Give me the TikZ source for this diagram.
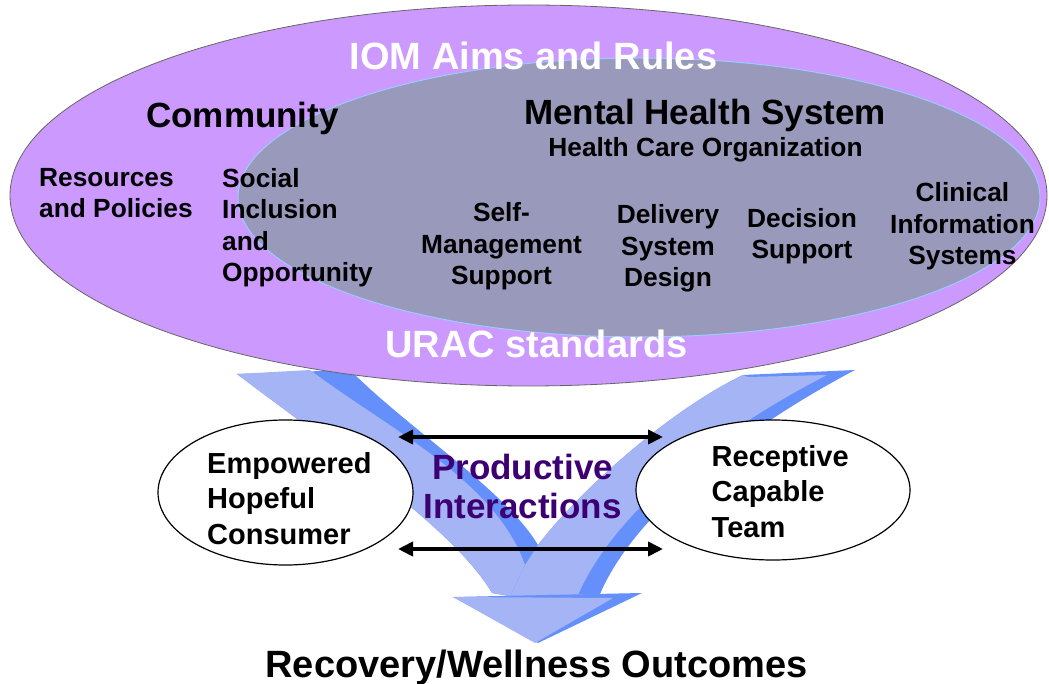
\documentclass[tikz,border=0pt]{standalone}
\usepackage{fontspec}
\setmainfont{Liberation Sans}
\usetikzlibrary{arrows.meta,shapes.geometric}
\definecolor{lav}{RGB}{204,153,255}
\definecolor{innerfill}{RGB}{153,153,187}
\definecolor{innerline}{RGB}{153,204,255}
\definecolor{alight}{RGB}{164,180,245}
\definecolor{adark}{RGB}{101,143,251}
\definecolor{prodc}{RGB}{60,0,115}
\begin{document}
\begin{tikzpicture}[x=1pt,y=-1pt,
  small/.style={font=\bfseries\fontsize{26.3}{31.5}\selectfont, inner sep=0pt, anchor=base},
  smallL/.style={small, align=left, anchor=base west},
  smallC/.style={small, align=center},
  mid/.style={font=\bfseries\fontsize{35}{40}\selectfont, inner sep=0pt, anchor=base},
  big/.style={font=\bfseries\fontsize{38}{44}\selectfont, inner sep=0pt, anchor=base},
  oval/.style={ellipse, draw=black, line width=1.2pt, fill=white, inner sep=0pt},
  dbl/.style={line width=3.8pt, {Triangle[length=15pt,width=14pt]}-{Triangle[length=15pt,width=14pt]}},
  ovaltext/.style={font=\bfseries\fontsize{29}{35.3}\selectfont, inner sep=0pt, align=left, anchor=base west}]
\useasboundingbox (0,0) rectangle (1049,684);
\fill[white] (0,0) rectangle (1049,684);

% ---- big arrow ----
% left arm
\fill[adark] (237,374) -- (350,370) .. controls (410,430) and (505,490) .. (538,545)
  -- (515,597) -- (492,593) .. controls (455,530) and (340,452) .. (237,374) -- cycle;
\fill[alight] (237,374) -- (310,370) .. controls (390,430) and (495,480) .. (525,565)
  -- (515,597) -- (492,593) .. controls (455,530) and (340,452) .. (237,374) -- cycle;
% right arm
\fill[adark] (743,375) -- (855,370) .. controls (745,428) and (635,512) .. (600,594)
  -- (510,597) -- (525,565) -- (538,545) .. controls (580,490) and (670,410) .. (743,375) -- cycle;
\fill[alight] (748,377) -- (827,375) .. controls (720,430) and (615,510) .. (578,595)
  -- (510,597) -- (525,565) -- (538,545) .. controls (580,490) and (670,410) .. (743,375) -- cycle;
% head
\fill[adark] (453,597) -- (642,593) -- (538,643) -- cycle;
\fill[alight] (453,597) -- (613,598) -- (535,643) -- cycle;

% ---- ellipses ----
\node[ellipse, fill=lav, draw=black!60, line width=0.8pt, inner sep=0pt,
  minimum width=1037pt, minimum height=381pt] (outer) at (528.5,195.5) {};
\node[ellipse, fill=innerfill, draw=innerline, line width=1pt, inner sep=0pt,
  minimum width=802pt, minimum height=279pt] (inner) at (639,197.5) {};

\node[big, text=white] (iom) at (533.5,70) {IOM Aims and Rules};
\node[mid] (comm) at (242.5,128) {Community};
\node[mid] (mhs) at (705,125) {Mental Health System};
\node[small] (hco) at (705.5,157) {Health Care Organization};
\node[smallL] (res) at (39,218) {Resources\\and Policies};
\node[smallL] (soc) at (222,282) {Social\\Inclusion\\and\\Opportunity};
\node[smallC] (selfm) at (501.5,285) {Self-\\Management\\Support};
\node[smallC] (deliv) at (668,287) {Delivery\\System\\Design};
\node[smallC] (decis) at (802,259) {Decision\\Support};
\node[smallC] (clin) at (962.5,265) {Clinical\\Information\\Systems};
\node[big, text=white] (urac) at (536.5,358) {URAC standards};

% ---- interaction ovals ----
\node[oval, minimum width=255pt, minimum height=145pt] (cons) at (285.5,492.5) {};
\node[oval, minimum width=274pt, minimum height=140pt] (team) at (773,490) {};
\node[ovaltext] (constext) at (207,544) {Empowered\\Hopeful\\Consumer};
\node[ovaltext] (teamtext) at (711.5,537) {Receptive\\Capable\\Team};

\node[font=\bfseries\fontsize{35}{39}\selectfont, text=prodc, inner sep=0pt, align=center, anchor=base]
  (prod) at (522.5,518) {Productive\\Interactions};

\coordinate (a1l) at (398,437);
\coordinate (a1r) at (663,437);
\coordinate (a2l) at (398,549);
\coordinate (a2r) at (663,549);
\draw[dbl] (a1l) -- (a1r);
\draw[dbl] (a2l) -- (a2r);

\node[big] (outc) at (536.5,677) {Recovery/Wellness Outcomes};
\end{tikzpicture}
\end{document}
